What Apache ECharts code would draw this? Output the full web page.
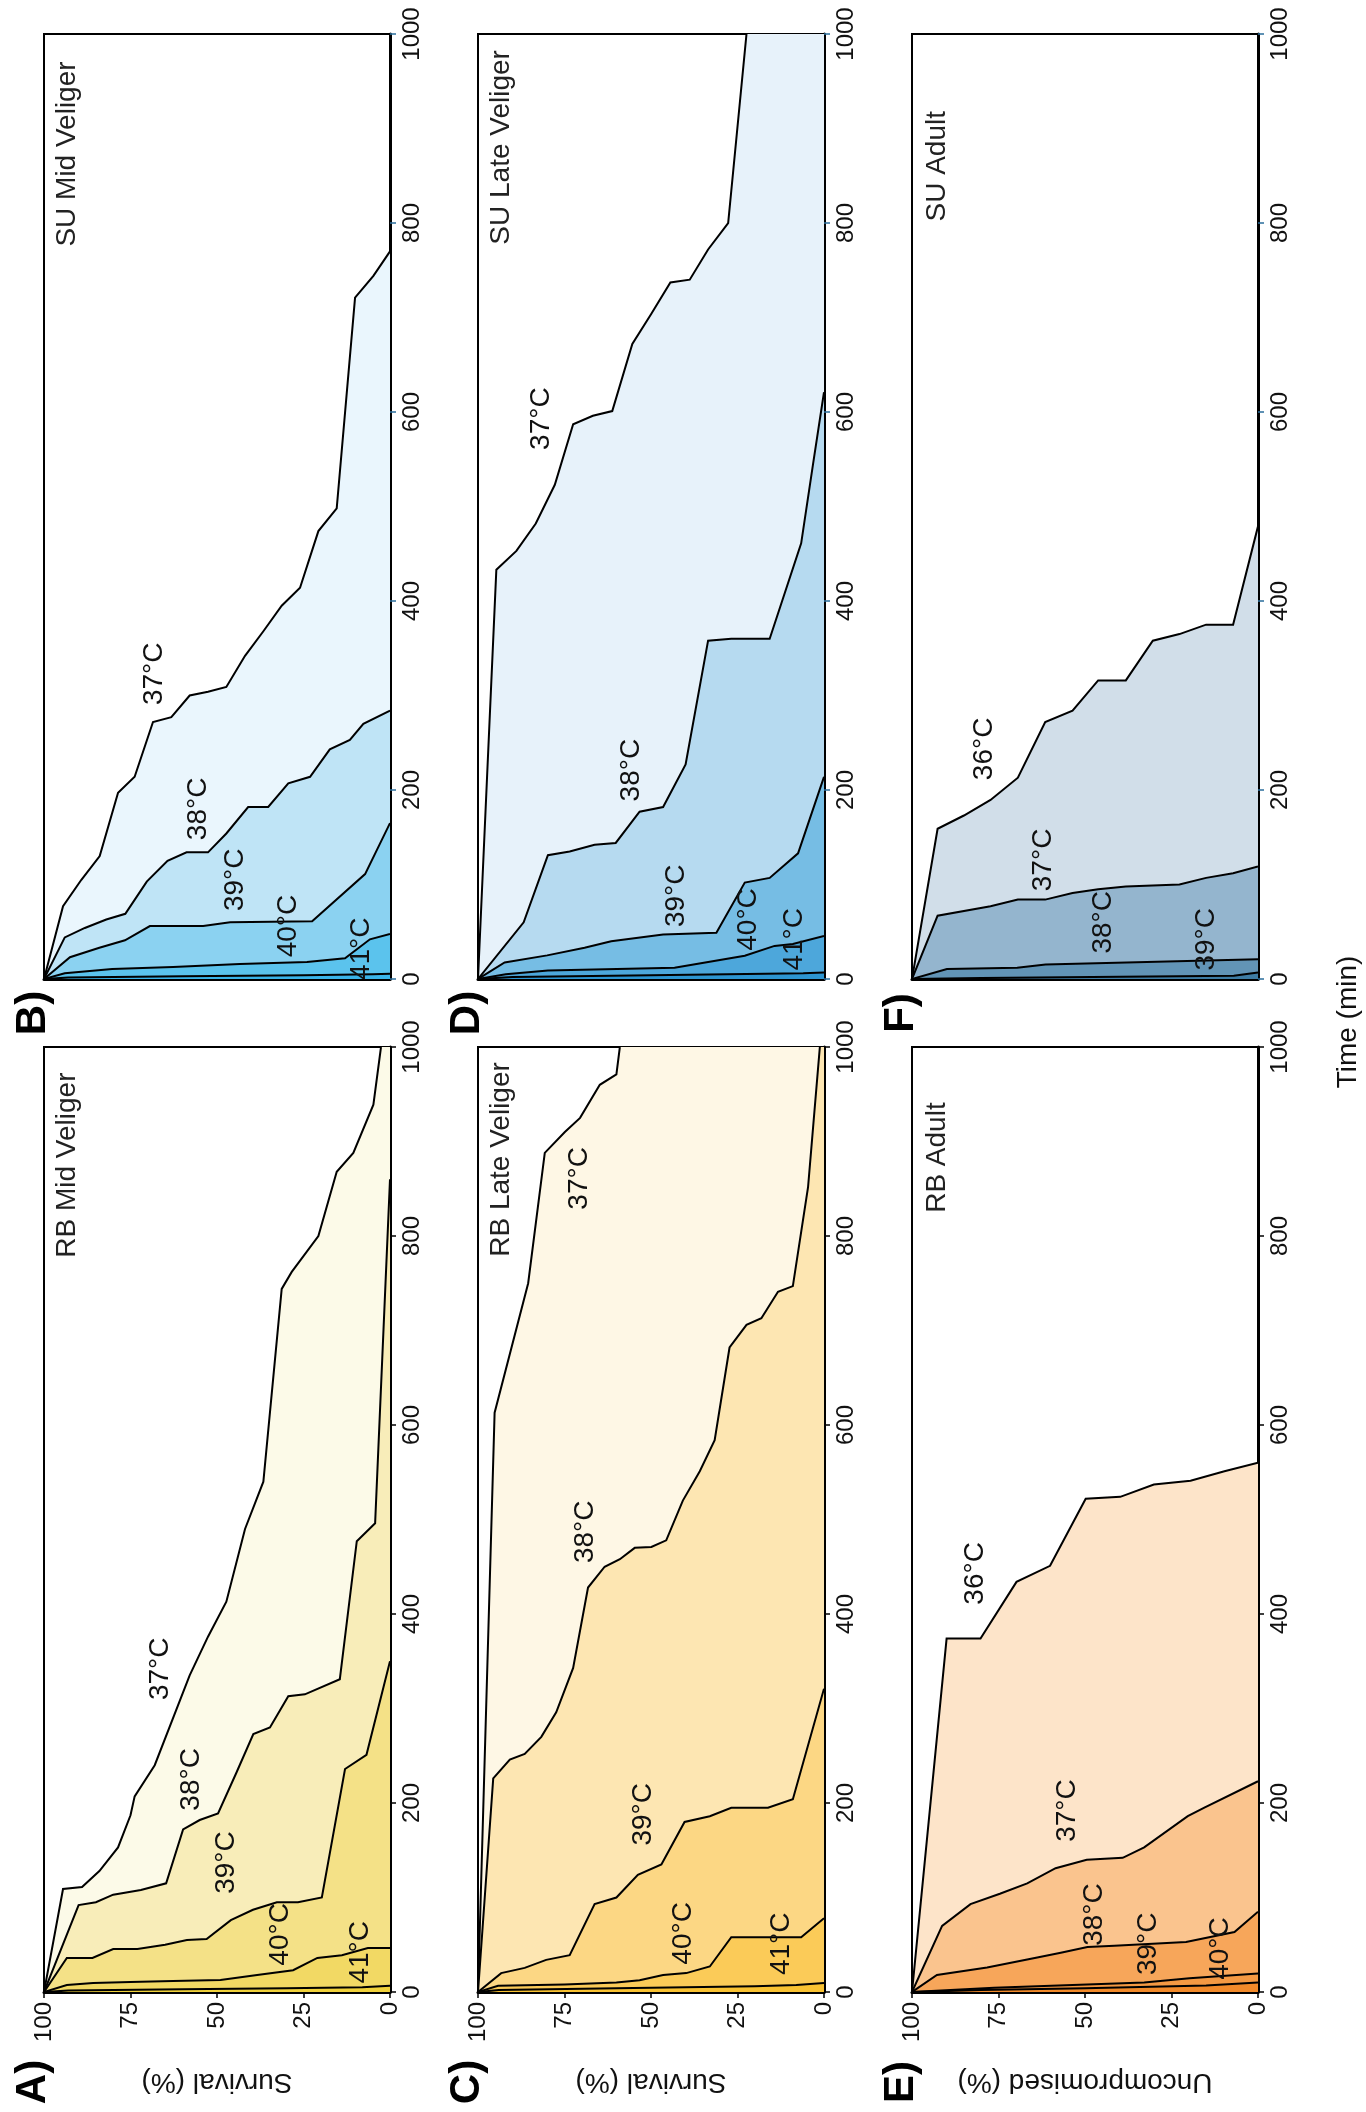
<!DOCTYPE html>
<html>
<head>
<meta charset="utf-8">
<script src="https://cdn.jsdelivr.net/npm/echarts@6/dist/echarts.min.js"></script>
<style>
html,body{margin:0;padding:0;background:#fff;}
#chart{width:1366px;height:2112px;}
</style>
</head>
<body>
<div id="chart"></div>
<script>
// ---------------- DATA: [time (min), survival (%)] ----------------
const rbMid37 = [[0,100],[109,94.5],[111,89],[128,84],[153,78.6],[187,75],[207,73.8],[240,68],[335,57.9],[376,52.6],[413,47.3],[490,41.9],[540,36.6],[744,31.3],[762,28.4],[800,20.7],[868,15.4],[888,10.6],[939,4.8],[1000,2.6]];
const rbMid38 = [[0,100],[92,90],[95,85],[103,80],[108,72],[115,64.7],[172,59.8],[182,55],[189,49.7],[232,44.4],[273,39.5],[280,34.7],[313,29.4],[315,24.6],[331,14.5],[477,9.6],[496,4.3],[860,0]];
const rbMid39 = [[0,100],[36,93.4],[36,86],[45.5,80],[45.5,73],[50,65],[55,58.7],[56,53],[76,46],[87,39.6],[95,32.7],[95,26.6],[100,19.7],[236,13],[251,6.8],[350,0]];
const rbMid40 = [[0,100],[7.4,93.4],[9.5,85.8],[10.6,75],[11.6,62.7],[12.7,49],[18,38.4],[23,28],[36,21],[39,13.9],[46.5,6.4],[46.5,0]];
const rbMid41 = [[0,100],[1.5,93],[3,60],[4,30],[5,8],[6.5,0]];

const suMid37 = [[0,100],[77,94.5],[105,89.2],[130,83.9],[197,78.6],[214,73.8],[272,68.5],[277,63.2],[300,57.9],[304,52.6],[309,47.3],[342,41.9],[368,36.6],[395,31.3],[414,26],[474,20.7],[498,15.4],[721,10.1],[744,4.8],[770,0]];
const suMid38 = [[0,100],[44,94],[54,88.2],[63,82],[69,76.5],[103,70.3],[125,64.3],[134,58.8],[134,52.6],[154,47.3],[182,41],[182,35.2],[207,29.4],[214,23.1],[243,17.4],[253,11.6],[270,7.7],[284,0]];
const suMid39 = [[0,100],[23,92.5],[33,84],[41,76.6],[56,69.4],[56,54],[60,46.2],[61,22.5],[111,7.2],[165,0]];
const suMid40 = [[0,100],[6,94],[10.6,80.3],[12.7,62.7],[15.9,43.4],[18,24],[22,13],[42,5.8],[47.6,0]];
const suMid41 = [[0,100],[1.5,93],[3,60],[4,25],[5,5],[5.5,0]];

const rbLate37 = [[0,100],[613,95.2],[750,85.5],[888,80.7],[910,74.9],[925,70.5],[960,64.8],[971,60],[1000,59]];
const rbLate38 = [[0,100],[226,95.6],[246,90.8],[252,86.5],[270,81.7],[296,77.4],[343,72.5],[428,68.2],[450,63.4],[458,59],[470,54.7],[471,49.9],[478,45.6],[520,40.8],[551,35.9],[584,31.6],[682,27.3],[706,22.4],[713,18.1],[741,13.3],[747,9],[852,4.6],[1000,1.2]];
const rbLate39 = [[0,100],[20,93.3],[25.5,86.5],[34,80.3],[39,73.5],[93,66.3],[100,60],[124,53.8],[135,47],[180,40.3],[186,33],[195,26.8],[195,16.2],[204,9],[321,0]];
const rbLate40 = [[0,100],[6.5,94.2],[8,75],[10,60],[12.4,53.3],[18,46.5],[20,39.8],[27,33],[58,26.8],[58,6.6],[78,0]];
const rbLate41 = [[0,100],[2,94],[4,60],[6,20],[7.3,8],[9.5,0]];

const suLate37 = [[0,100],[433,94.7],[453,88.9],[482,83.3],[523,77.8],[587,72.5],[596,66.8],[601,61.2],[672,55.4],[704,49.9],[737,44.4],[740,38.8],[772,33.5],[800,27.7],[1000,22.4]];
const suLate38 = [[0,100],[60,86.8],[131,79.8],[135,73.5],[142,66.3],[144,60.2],[177,53.3],[182,46.5],[227,40],[358,33.5],[360,26.8],[360,15.7],[461,6.6],[544,3.2],[621,0]];
const suLate39 = [[0,100],[17.5,92.3],[25,80],[33,69.2],[40,61.5],[47,46.5],[49,31.1],[102,22.9],[107,15.7],[133,7.5],[214,0]];
const suLate40 = [[0,100],[5,92],[9,79.8],[12,43.2],[24.6,22.9],[35,14.3],[37,9],[45.6,0]];
const suLate41 = [[0,100],[2,90],[4,50],[6,6],[7,0]];

const rbAdult36 = [[0,100],[374,90],[374,80.2],[434,69.8],[451,60.1],[522,49.8],[524,39.8],[537,30.1],[541,19.5],[551,9.7],[560,0]];
const rbAdult37 = [[0,100],[70,91.3],[93,83.1],[104,74.6],[115,66.7],[131,58.5],[140,49.5],[142,39.1],[153,32.9],[186,20.3],[195,15.5],[223,0]];
const rbAdult38 = [[0,100],[18,92.8],[26,78.3],[36.5,63.8],[41.6,57],[47.5,49.3],[49,41.5],[53,20.8],[63.5,6.8],[85,0]];
const rbAdult39 = [[0,100],[4.4,76.3],[10,32.9],[14.6,19.8],[19.7,0]];
const rbAdult40 = [[0,100],[2,80],[4,50],[7,15],[10,0]];

const suAdult36 = [[0,100],[159,92.6],[173,85],[189.5,77.3],[213,69.4],[272,61.5],[284,53.6],[316,46.2],[316,38.2],[358,30.4],[365,22.7],[375,15],[375,7.2],[479,0]];
const suAdult37 = [[0,100],[67,92.6],[77,77.3],[84,69.4],[84,61.5],[91,53.6],[95,46.2],[98,38.2],[100,22.7],[107,15],[112,7.2],[119,0]];
const suAdult38 = [[0,100],[10.5,89.9],[12,69.6],[15.4,61.4],[21,0]];
const suAdult39 = [[0,100],[1,80],[2.5,40],[3.5,7],[7,0]];

// temperature label names and anchors [text, survival, time]
const rbMidLabels = [['37°C',66.5,342],['38°C',57.4,225],['39°C',47.3,137],['40°C',31.8,61],['41°C',8.7,42]];
const suMidLabels = [['37°C',68,323],['38°C',55.4,180],['39°C',44.8,105],['40°C',29.4,56],['41°C',8.2,32]];
const rbLateLabels = [['37°C',70.8,861],['38°C',68.9,487],['39°C',52.3,188],['40°C',40.8,62],['41°C',12.3,51]];
const suLateLabels = [['37°C',81.7,593],['38°C',55.7,221],['39°C',42.7,88],['40°C',22,63],['41°C',8.5,42]];
const rbAdultLabels = [['36°C',81.6,443],['37°C',55,192],['38°C',47.3,82],['39°C',31.7,51],['40°C',10.8,46]];
const suAdultLabels = [['36°C',79.2,243.5],['37°C',62,126],['38°C',44.6,60],['39°C',15,42]];

const panelTitles = ['RB Mid Veliger','SU Mid Veliger','RB Late Veliger','SU Late Veliger','RB Adult','SU Adult'];
const titleAnchors = [[93.3,875],[93.3,873],[93.3,881],[93.3,880],[92.7,883],[92.7,860]];
const panelLetters = ['A)','B)','C)','D)','E)','F)'];
const yNames = ['Survival (%)','','Survival (%)','','Uncompromised (%)',''];

// ---------------- STYLE / LAYOUT ----------------
const FONT = 'Liberation Sans, Arial, Helvetica, sans-serif';
const panels = [
  {curves:[rbMid37,rbMid38,rbMid39,rbMid40,rbMid41], labels:rbMidLabels,
   colors:['#FCFAE8','#F8EDB9','#F4E187','#F2D964','#F0D13B'], col:0, lower:true},
  {curves:[suMid37,suMid38,suMid39,suMid40,suMid41], labels:suMidLabels,
   colors:['#EAF6FD','#BFE4F6','#8BD2F1','#5BC3ED','#3AB4E9'], col:0, lower:false},
  {curves:[rbLate37,rbLate38,rbLate39,rbLate40,rbLate41], labels:rbLateLabels,
   colors:['#FEF7E5','#FDE6B2','#FCD784','#FBCB58','#F9C232'], col:1, lower:true},
  {curves:[suLate37,suLate38,suLate39,suLate40,suLate41], labels:suLateLabels,
   colors:['#E7F2FA','#B6DAF0','#76BDE4','#4DA7DB','#2D95D1'], col:1, lower:false},
  {curves:[rbAdult36,rbAdult37,rbAdult38,rbAdult39,rbAdult40], labels:rbAdultLabels,
   colors:['#FDE4C9','#FAC48E','#F7A65A','#F49943','#F28A2A'], col:2, lower:true},
  {curves:[suAdult36,suAdult37,suAdult38,suAdult39], labels:suAdultLabels,
   colors:['#D1DEE9','#94B5CE','#6294B6','#3E7CA4'], col:2, lower:false}
];
const colX = [44,478,912];
const GW = 346, GH = 945;
const TOP_UPPER = 34, TOP_LOWER = 1047;

const grids = [], xAxes = [], yAxes = [], series = [], graphics = [];

panels.forEach((p, i) => {
  const top = p.lower ? TOP_LOWER : TOP_UPPER;
  grids.push({left: colX[p.col], top: top, width: GW, height: GH,
    show: true, borderColor: '#000', borderWidth: 2, backgroundColor: '#fff'});
  xAxes.push({
    gridIndex: i, type: 'value', min: 0, max: 100, interval: 25, inverse: true, position: 'bottom',
    axisLine: {show: true, onZero: false, lineStyle: {color: '#000', width: 3}},
    axisTick: {show: p.lower, length: 6, lineStyle: {color: '#000', width: 1.5}},
    axisLabel: {show: p.lower, rotate: 90, fontSize: 24, margin: 10, color: '#111', fontFamily: FONT,
      formatter: v => String(v)},
    splitLine: {show: false},
    name: yNames[i], nameLocation: 'middle', nameGap: 76, nameRotate: 180,
    nameTextStyle: {fontSize: 28, color: '#111', fontFamily: FONT}
  });
  yAxes.push({
    gridIndex: i, type: 'value', min: 0, max: 1000, interval: 200, position: 'right',
    axisLine: {show: true, onZero: false, lineStyle: {color: '#000', width: 3}},
    axisTick: {show: true, length: 6, lineStyle: {color: p.lower ? '#000' : '#2a6d9c', width: 1.5}},
    axisLabel: {rotate: 90, fontSize: 24, margin: 10, color: '#111', fontFamily: FONT,
      formatter: v => String(v)},
    splitLine: {show: false}
  });
  // areas (largest first)
  p.curves.forEach((pts, k) => {
    series.push({
      type: 'custom', xAxisIndex: i, yAxisIndex: i, silent: true, clip: true, z: 2 + k,
      data: pts.map(d => [d[1], d[0]]),
      renderItem: (params, api) => {
        if (params.dataIndex !== 0) return null;
        const curve = pts.map(d => api.coord([d[1], d[0]]));
        const last = pts[pts.length - 1];
        const poly = curve.concat([api.coord([0, last[0]]), api.coord([0, 0])]);
        return {type: 'group', children: [
          {type: 'polygon', shape: {points: poly}, style: {fill: p.colors[k], stroke: null}},
          {type: 'polyline', shape: {points: curve}, style: {stroke: '#000', lineWidth: 2, fill: null, lineJoin: 'miter'}}
        ]};
      }
    });
  });
  // temperature labels
  const labs = p.labels;
  series.push({
    type: 'custom', xAxisIndex: i, yAxisIndex: i, silent: true, z: 20,
    data: labs.map(l => [l[1], l[2]]),
    renderItem: (params, api) => {
      const c = api.coord([api.value(0), api.value(1)]);
      return {type: 'text', x: c[0], y: c[1], rotation: Math.PI / 2,
        style: {text: labs[params.dataIndex][0], fontSize: 28, fontFamily: FONT, fill: '#111',
          align: 'center', verticalAlign: 'middle'}};
    }
  });
  // panel title
  const ta = titleAnchors[i];
  series.push({
    type: 'custom', xAxisIndex: i, yAxisIndex: i, silent: true, z: 20,
    data: [[ta[0], ta[1]]],
    renderItem: (params, api) => {
      const c = api.coord([api.value(0), api.value(1)]);
      return {type: 'text', x: c[0], y: c[1], rotation: Math.PI / 2,
        style: {text: panelTitles[i], fontSize: 28, fontFamily: FONT, fill: '#222',
          align: 'center', verticalAlign: 'middle'}};
    }
  });
  // panel letter
  graphics.push({type: 'text', x: colX[p.col] - 11, y: p.lower ? top + GH + 90 : top + GH + 34,
    rotation: Math.PI / 2,
    style: {text: panelLetters[i], fontSize: 42, fontWeight: 'bold', fontFamily: FONT, fill: '#000',
      align: 'center', verticalAlign: 'middle'}});
});

graphics.push({type: 'text', x: 1348, y: 1022, rotation: Math.PI / 2,
  style: {text: 'Time (min)', fontSize: 28, fontFamily: FONT, fill: '#111', align: 'center', verticalAlign: 'middle'}});

const chart = echarts.init(document.getElementById('chart'), null, {renderer: 'canvas'});
chart.setOption({
  animation: false,
  backgroundColor: '#fff',
  grid: grids, xAxis: xAxes, yAxis: yAxes, series: series, graphic: graphics
});
</script>
</body>
</html>
